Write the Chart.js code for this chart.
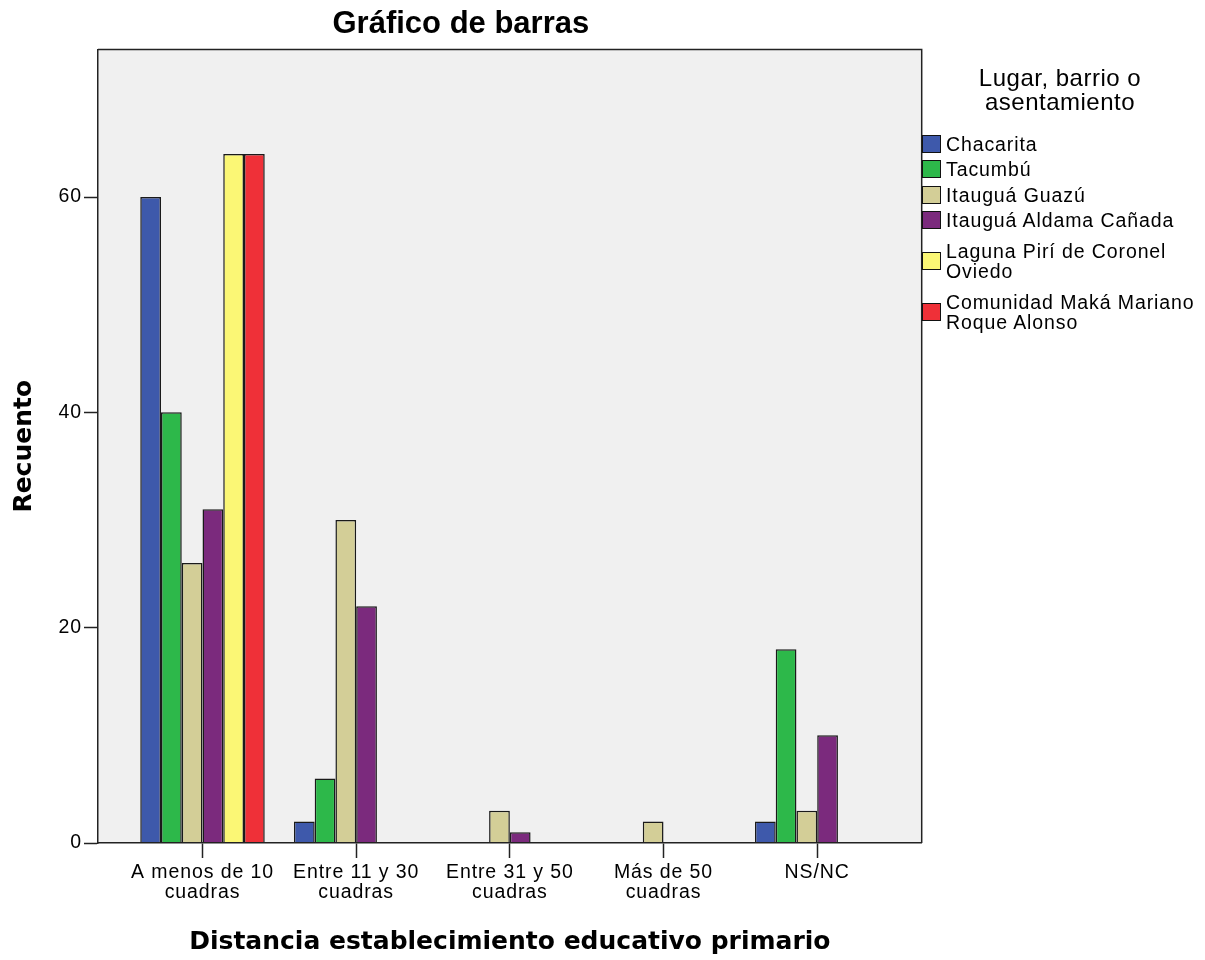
<!DOCTYPE html>
<html>
<head>
<meta charset="utf-8">
<script src="https://cdn.jsdelivr.net/npm/chart.js@4.4.1/dist/chart.umd.min.js"></script>
<style>
  html, body { margin: 0; padding: 0; background: #fff; }
  #wrap { position: relative; width: 1205px; height: 960px; overflow: hidden; }
  #chart { position: absolute; left: 0; top: 0; }
  #legend { position: absolute; left: 922px; top: 0; width: 283px; height: 960px;
            font-family: "Liberation Sans", Arial, sans-serif; color: #000; }
  #legendTitle { position: absolute; left: 38px; top: 66px; width: 200px; text-align: center;
                 font-size: 24px; line-height: 24px; letter-spacing: 0.5px; }
  #legendItems { position: absolute; left: 0; top: 134px; }
  .item { display: flex; align-items: center; margin-bottom: 5.3px; }
  .item.multi { padding-top: 6px; }
  .sw { width: 19px; height: 18px; box-sizing: border-box; border: 1.5px solid #111; flex: none; }
  .tx { margin-left: 5px; width: 255px; font-size: 19.5px; line-height: 20px; letter-spacing: 0.9px; }
</style>
</head>
<body>
<div id="wrap">
  <canvas id="chart" width="1205" height="960"></canvas>
  <div id="legend">
    <div id="legendTitle"></div>
    <div id="legendItems"></div>
  </div>
</div>
<script>
// ---- Data ----
const categories = [
  ['A menos de 10', 'cuadras'],
  ['Entre 11 y 30', 'cuadras'],
  ['Entre 31 y 50', 'cuadras'],
  ['Más de 50', 'cuadras'],
  ['NS/NC']
];
const seriesNames = [
  'Chacarita',
  'Tacumbú',
  'Itauguá Guazú',
  'Itauguá Aldama Cañada',
  'Laguna Pirí de Coronel Oviedo',
  'Comunidad Maká Mariano Roque Alonso'
];
const chacarita     = [60, 2, 0, 0, 2];
const tacumbu       = [40, 6, 0, 0, 18];
const itauguaGuazu  = [26, 30, 3, 2, 3];
const itauguaAldama = [31, 22, 1, 0, 10];
const lagunaPiri    = [64, 0, 0, 0, 0];
const comunidadMaka = [64, 0, 0, 0, 0];
const yTicks = [0, 20, 40, 60];

const chartTitle = 'Gráfico de barras';
const xTitle = 'Distancia establecimiento educativo primario';
const yTitle = 'Recuento';
const legendTitle = 'Lugar, barrio o asentamiento';

// ---- Styles ----
const seriesValues = [chacarita, tacumbu, itauguaGuazu, itauguaAldama, lagunaPiri, comunidadMaka];
const colors = ['#3e59ab', '#2db84a', '#d3ce97', '#7b2a7d', '#fbf775', '#ef3038'];
const sansFont = '"Liberation Sans", Arial, sans-serif';
const lineColor = '#222';

const datasets = seriesNames.map((name, i) => ({
  label: name,
  data: seriesValues[i].map((v, j) => ({ x: j, y: v })),
  backgroundColor: colors[i],
  borderColor: '#1a1a1a',
  borderWidth: (ctx) => (ctx.raw && ctx.raw.y === 0 ? 0 : 1.5),
  categoryPercentage: 0.81,
  barPercentage: 1
}));

const framePlugin = {
  id: 'framePlugin',
  beforeDraw(chart) {
    const { ctx, chartArea: a } = chart;
    ctx.save();
    ctx.fillStyle = '#f0f0f0';
    ctx.fillRect(a.left, a.top, a.right - a.left, a.bottom - a.top);
    ctx.restore();
  },
  afterDatasetsDraw(chart) {
    const { ctx, chartArea: a } = chart;
    ctx.save();
    ctx.strokeStyle = lineColor;
    ctx.lineWidth = 1.5;
    ctx.beginPath();
    ctx.moveTo(a.left, a.top);
    ctx.lineTo(a.right, a.top);
    ctx.lineTo(a.right, a.bottom);
    ctx.stroke();
    ctx.restore();
    ctx.letterSpacing = '0.9px';
  },
  afterDraw(chart) {
    chart.ctx.letterSpacing = '0px';
  }
};

const chart = new Chart(document.getElementById('chart'), {
  type: 'bar',
  data: { datasets },
  plugins: [framePlugin],
  options: {
    responsive: false,
    animation: false,
    devicePixelRatio: 1,
    layout: { padding: { left: 0, right: 283.3, top: 0, bottom: 0 } },
    plugins: {
      legend: { display: false },
      tooltip: { enabled: false },
      title: {
        display: true,
        text: chartTitle,
        color: '#000',
        font: { family: sansFont, size: 31, weight: 'bold', lineHeight: 1.2 },
        padding: { top: 6, bottom: 6.3 }
      }
    },
    scales: {
      x: {
        type: 'linear',
        position: 'bottom',
        offset: false,
        min: -0.68,
        max: 4.68,
        afterBuildTicks: (s) => { s.ticks = categories.map((c, i) => ({ value: i })); },
        afterFit: (s) => { s.height = 117; },
        ticks: {
          autoSkip: false, maxRotation: 0, minRotation: 0, padding: 5, color: '#000', z: 1,
          font: { family: sansFont, size: 19.5, lineHeight: '20px' },
          callback: (v) => categories[v]
        },
        grid: { display: true, offset: false, drawOnChartArea: false, drawTicks: true, tickLength: 15, tickWidth: 1.5, tickColor: lineColor },
        border: { display: true, color: lineColor, width: 1.5, z: 1 },
        title: {
          display: true, text: xTitle, color: '#000',
          font: { family: '"DejaVu Sans", Verdana, sans-serif', size: 25, weight: 'bold', lineHeight: 1.2 },
          padding: { top: 0, bottom: 3 }
        }
      },
      y: {
        type: 'linear',
        min: 0,
        max: 73.7,
        afterBuildTicks: (s) => { s.ticks = yTicks.map(v => ({ value: v })); },
        afterFit: (s) => { s.width = 98; },
        ticks: { padding: 2, color: '#000', z: 1, font: { family: sansFont, size: 19.5, lineHeight: '20px' } },
        grid: { display: true, drawOnChartArea: false, drawTicks: true, tickLength: 14, tickWidth: 1.5, tickColor: lineColor },
        border: { display: true, color: lineColor, width: 1.5, z: 1 },
        title: {
          display: true, text: yTitle, color: '#000',
          font: { family: '"DejaVu Sans", Verdana, sans-serif', size: 25, weight: 'bold', lineHeight: 1.2 },
          padding: { top: 9, bottom: 0 }
        }
      }
    }
  }
});

// ---- HTML legend built from the chart's datasets ----
document.getElementById('legendTitle').textContent = legendTitle;
const itemsEl = document.getElementById('legendItems');
chart.data.datasets.forEach(ds => {
  const item = document.createElement('div');
  item.className = 'item';
  const sw = document.createElement('div');
  sw.className = 'sw';
  sw.style.background = ds.backgroundColor;
  const tx = document.createElement('div');
  tx.className = 'tx';
  tx.textContent = ds.label;
  item.appendChild(sw);
  item.appendChild(tx);
  itemsEl.appendChild(item);
  if (tx.offsetHeight > 30) item.classList.add('multi');
});
</script>
</body>
</html>
